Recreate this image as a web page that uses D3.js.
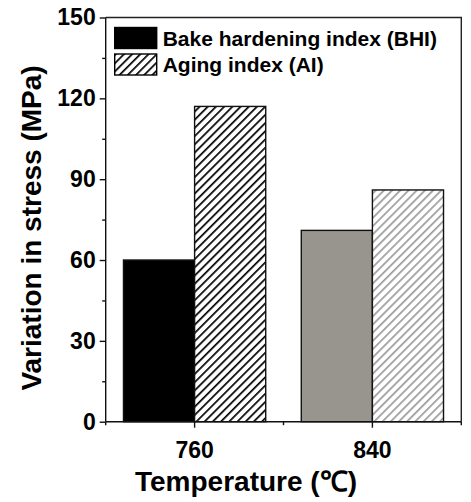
<!DOCTYPE html>
<html>
<head>
<meta charset="utf-8">
<script src="https://cdnjs.cloudflare.com/ajax/libs/d3/7.8.5/d3.min.js"></script>
<style>
  body { margin: 0; background: #fff; }
  text { font-family: "Liberation Sans", Arial, sans-serif; font-weight: bold; fill: #000; }
</style>
</head>
<body>
<div id="chart"></div>
<script>
// data
var categories = ["760", "840"];
var seriesNames = ["Bake hardening index (BHI)", "Aging index (AI)"];
var bhiValues = [60, 71];
var aiValues = [117, 86];
var yTicks = [0, 30, 60, 90, 120, 150];
var yMinorTicks = [15, 45, 75, 105, 135];

var W = 471, H = 502;
var margin = { top: 17.5, right: 9.7, bottom: 80.3, left: 105.7 };
var width = W - margin.left - margin.right,
    height = H - margin.top - margin.bottom;

var solidFill = ["#000000", "#98958f"];
var hatchStroke = ["#000000", "#9c9c9c"];

var svg = d3.select("#chart").append("svg")
    .attr("width", W)
    .attr("height", H);

// hatch patterns
var defs = svg.append("defs");
hatchStroke.forEach(function(c, i) {
    var p = defs.append("pattern")
        .attr("id", "hatch" + i)
        .attr("patternUnits", "userSpaceOnUse")
        .attr("width", 5.8)
        .attr("height", 5.8)
        .attr("patternTransform", "rotate(45)");
    p.append("rect").attr("width", 5.8).attr("height", 5.8).attr("fill", "#fff");
    p.append("line")
        .attr("x1", 0).attr("y1", 0).attr("x2", 0).attr("y2", 5.8)
        .attr("stroke", c)
        .attr("stroke-width", 3.4);
});

var g = svg.append("g")
    .attr("transform", "translate(" + margin.left + "," + margin.top + ")");

var x = d3.scaleBand()
    .domain(categories)
    .range([0, width])
    .paddingInner(0.2)
    .paddingOuter(0.1);

var x1 = d3.scaleBand()
    .domain([0, 1])
    .range([0, x.bandwidth()]);

var y = d3.scaleLinear()
    .domain([0, 150])
    .range([height, 0]);

// bars
var groups = g.selectAll(".grp")
    .data(categories)
    .enter().append("g")
    .attr("class", "grp")
    .attr("transform", function(d) { return "translate(" + x(d) + ",0)"; });

groups.append("rect")
    .attr("x", x1(0))
    .attr("y", function(d, i) { return y(bhiValues[i]); })
    .attr("width", x1.bandwidth())
    .attr("height", function(d, i) { return height - y(bhiValues[i]); })
    .attr("fill", function(d, i) { return solidFill[i]; })
    .attr("stroke", "#111")
    .attr("stroke-width", 1.4);

groups.append("rect")
    .attr("x", x1(1))
    .attr("y", function(d, i) { return y(aiValues[i]); })
    .attr("width", x1.bandwidth())
    .attr("height", function(d, i) { return height - y(aiValues[i]); })
    .attr("fill", function(d, i) { return "url(#hatch" + i + ")"; })
    .attr("stroke", "#111")
    .attr("stroke-width", 1.4);

// frame (top and right)
g.append("path")
    .attr("d", "M0,0H" + width + "V" + height)
    .attr("fill", "none")
    .attr("stroke", "#222")
    .attr("stroke-width", 1.4);

// y axis
var yAxis = g.append("g")
    .call(d3.axisLeft(y).tickValues(yTicks).tickSize(6).tickPadding(4));
yAxis.selectAll(".tick text").style("font-size", "23px");
yAxis.selectAll("line, path").attr("stroke", "#111").attr("stroke-width", 1.4);
yAxis.select(".domain").attr("d", "M0," + height + "V0");

g.append("g")
    .call(d3.axisLeft(y).tickValues(yMinorTicks).tickSize(3.5).tickFormat(""))
    .call(function(s) { s.select(".domain").remove(); })
    .selectAll("line").attr("stroke", "#111").attr("stroke-width", 1.4);

// x axis
var xAxis = g.append("g")
    .attr("transform", "translate(0," + height + ")")
    .call(d3.axisBottom(x).tickSize(6).tickPadding(14));
xAxis.selectAll(".tick text").style("font-size", "23px");
xAxis.selectAll("line, path").attr("stroke", "#111").attr("stroke-width", 1.4);
xAxis.select(".domain").attr("d", "M0,0H" + width);

// minor x ticks between and at the edges of the categories
var xMinor = [0, width / 2, width];
g.append("g")
    .attr("transform", "translate(0," + height + ")")
    .selectAll("line")
    .data(xMinor)
    .enter().append("line")
    .attr("x1", function(d) { return d; })
    .attr("x2", function(d) { return d; })
    .attr("y1", 0)
    .attr("y2", 3.5)
    .attr("stroke", "#111")
    .attr("stroke-width", 1.4);

// axis titles
svg.append("text")
    .attr("x", 246)
    .attr("y", 491)
    .attr("text-anchor", "middle")
    .style("font-size", "28px")
    .text("Temperature (\u2103)");

svg.append("text")
    .attr("transform", "translate(41," + 228 + ") rotate(-90)")
    .attr("text-anchor", "middle")
    .style("font-size", "28px")
    .text("Variation in stress (MPa)");

// legend
var legend = g.selectAll(".legend")
    .data(seriesNames)
    .enter().append("g")
    .attr("class", "legend")
    .attr("transform", function(d, i) { return "translate(9," + (10 + i * 26.5) + ")"; });

legend.append("rect")
    .attr("width", 42)
    .attr("height", 21)
    .attr("fill", function(d, i) { return i === 0 ? "#000" : "url(#hatch0)"; })
    .attr("stroke", "#000")
    .attr("stroke-width", 1.4);

legend.append("text")
    .attr("x", 48)
    .attr("y", 10.5)
    .attr("dy", "0.36em")
    .style("font-size", "21px")
    .text(function(d) { return d; });
</script>
</body>
</html>
